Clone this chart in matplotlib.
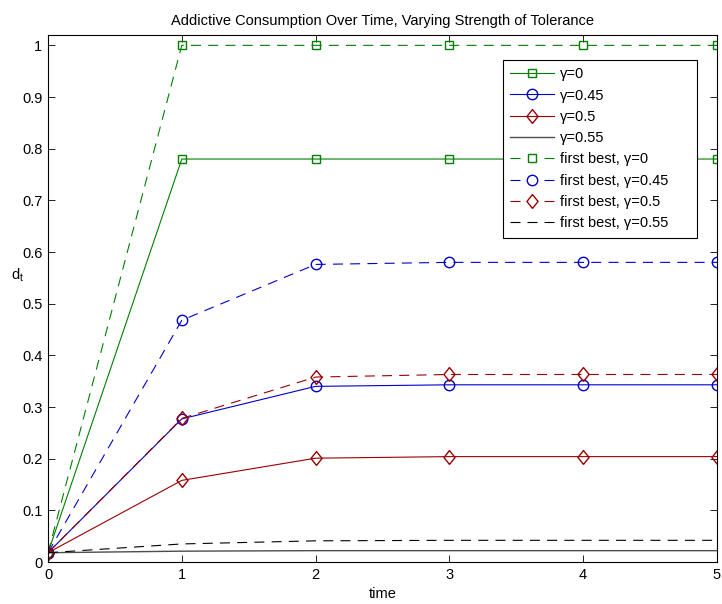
import matplotlib
matplotlib.use('Agg')
import matplotlib.pyplot as plt
import numpy as np

plt.rcParams['font.family'] = ['Liberation Sans', 'DejaVu Sans']
plt.rcParams['font.size'] = 10.5

# data
time = [0, 1, 2, 3, 4, 5]
d_g0 = [0.018, 0.780, 0.780, 0.780, 0.780, 0.780]
d_g045 = [0.018, 0.277, 0.340, 0.343, 0.343, 0.343]
d_g05 = [0.018, 0.158, 0.201, 0.204, 0.204, 0.204]
d_g055 = [0.018, 0.021, 0.022, 0.022, 0.022, 0.022]
fb_g0 = [0.018, 1.0, 1.0, 1.0, 1.0, 1.0]
fb_g045 = [0.018, 0.468, 0.576, 0.580, 0.580, 0.580]
fb_g05 = [0.018, 0.278, 0.358, 0.363, 0.363, 0.363]
fb_g055 = [0.018, 0.035, 0.041, 0.042, 0.042, 0.042]

labels = ['\u03b3=0', '\u03b3=0.45', '\u03b3=0.5', '\u03b3=0.55',
          'first best, \u03b3=0', 'first best, \u03b3=0.45',
          'first best, \u03b3=0.5', 'first best, \u03b3=0.55']

green = (0, 0.5, 0)
blue = (0, 0, 0.8)
red = (0.6, 0, 0)
dark = (0.3, 0.3, 0.3)
dash = (9, 6.5)
# wider diamond than matplotlib's 'd'
diamond = [(0, -1), (0.8, 0), (0, 1), (-0.8, 0), (0, -1)]
dms = 10

fig = plt.figure(figsize=(7.22, 6.04), dpi=100)
ax = fig.add_axes([0.0665, 0.0695, 0.9265, 0.8725])

lw = 0.8
ax.plot(time, d_g0, '-s', color=green, lw=lw, ms=6, mfc='none', label=labels[0])
ax.plot(time, d_g045, '-o', color=blue, lw=lw, ms=7.5, mfc='none', label=labels[1])
ax.plot(time, d_g05, '-', marker=diamond, color=red, lw=lw, ms=dms, mfc='none', label=labels[2])
ax.plot(time, d_g055, '-', color=dark, lw=1.0, label=labels[3])
ax.plot(time, fb_g0, '--s', color=green, lw=lw, ms=6, mfc='none', dashes=dash, label=labels[4])
ax.plot(time, fb_g045, '--o', color=blue, lw=lw, ms=7.5, mfc='none', dashes=dash, label=labels[5])
ax.plot(time, fb_g05, '--', marker=diamond, color=red, lw=lw, ms=dms, mfc='none', dashes=dash, label=labels[6])
ax.plot(time, fb_g055, '--', color='black', lw=lw, dashes=dash, label=labels[7])

ax.set_xlim(0, 5)
ax.set_ylim(0, 1.02)
ax.set_xticks(time)
yt = np.round(np.arange(0, 1.01, 0.1), 1)
ax.set_yticks(yt)
ax.set_yticklabels(['0'] + ['%g' % v for v in yt[1:]])
ax.tick_params(direction='in', top=True, right=True, length=5, width=0.6, pad=4)
for s in ax.spines.values():
    s.set_linewidth(0.8)

ax.set_title('Addictive Consumption Over Time, Varying Strength of Tolerance', fontsize=10.5, pad=7)
ax.set_xlabel('time', labelpad=4)
ax.set_ylabel(r'd$_\mathregular{t}$', rotation=0, va='center', ha='center')
ax.yaxis.set_label_coords(-0.046, 0.545)

leg = ax.legend(loc='upper left', bbox_to_anchor=(0.680, 0.5, 0.290, 0.4526), mode='expand',
                borderaxespad=0, handlelength=3.0, fancybox=False, edgecolor='black',
                framealpha=1, labelspacing=0.5, handletextpad=0.4, borderpad=0.5)
leg.get_frame().set_linewidth(0.8)
# one dash each side of the marker in the legend, like the original
legend_lines = leg.get_lines()
for line in legend_lines[4:7]:
    line.set_dashes((9, 21.6))
legend_lines[7].set_dashes((9, 6.3))

plt.savefig('out.png', dpi=100)
